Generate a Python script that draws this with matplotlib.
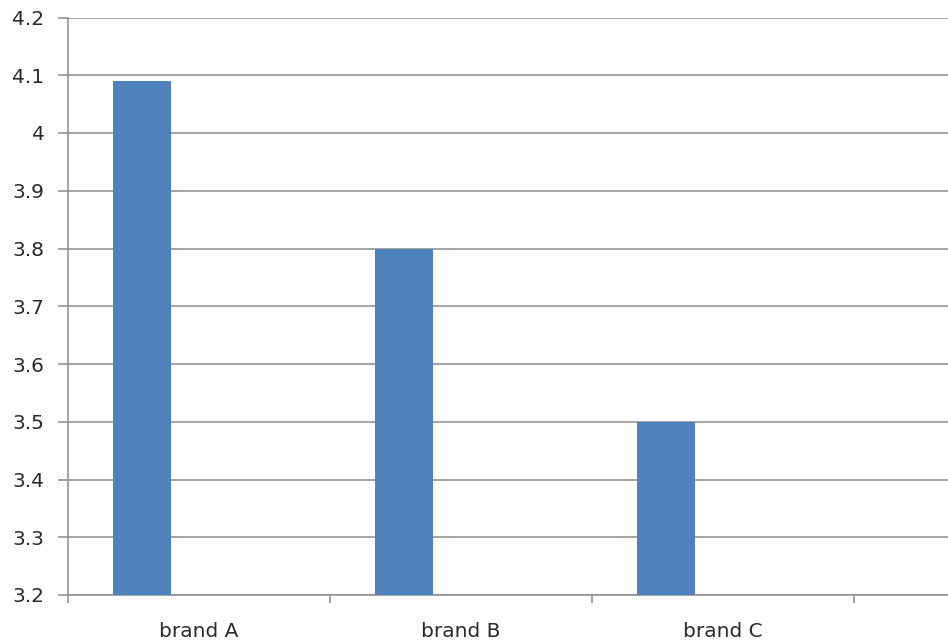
import matplotlib
matplotlib.use("Agg")
import matplotlib.pyplot as plt
import numpy as np

# Chart data
brands = ["brand A", "brand B", "brand C"]
scores = [4.09, 3.80, 3.50]
y_ticks = [3.2, 3.3, 3.4, 3.5, 3.6, 3.7, 3.8, 3.9, 4.0, 4.1, 4.2]
y_labels = ["3.2", "3.3", "3.4", "3.5", "3.6", "3.7", "3.8", "3.9", "4", "4.1", "4.2"]

BAR_COLOR = "#4F81BD"
GRID_COLOR = "#8c8c8c"
TEXT_COLOR = "#2b2b2b"

fig = plt.figure(figsize=(9.48, 6.44), dpi=100)
ax = fig.add_axes([68 / 948, 49 / 644, (948 - 68) / 948, (595 - 17.5) / 644])

x = np.arange(len(brands))
bar_w = 0.222
ax.bar(x - bar_w + 0.004, scores, width=bar_w, color=BAR_COLOR, zorder=3)

ax.set_ylim(3.2, 4.2)
ax.set_xlim(-0.5, (948 - 68) / 262 - 0.5)

ax.set_yticks(y_ticks)
ax.set_yticklabels(y_labels)
ax.yaxis.grid(True, color=GRID_COLOR, linewidth=1.1, zorder=0)
ax.set_axisbelow(True)

# category labels at centres, tick marks at category boundaries
ax.set_xticks(x)
ax.set_xticklabels(brands)
ax.set_xticks(np.arange(len(brands) + 1) - 0.5, minor=True)
ax.tick_params(axis="x", which="major", length=0, pad=19.5, labelsize=14.5, labelcolor=TEXT_COLOR)
ax.tick_params(axis="x", which="minor", length=6, width=1.1, color=GRID_COLOR, direction="out")
ax.tick_params(axis="y", length=7, width=1.1, color=GRID_COLOR, pad=10, labelsize=14.5, labelcolor=TEXT_COLOR)

for side in ("top", "right"):
    ax.spines[side].set_visible(False)
for side in ("left", "bottom"):
    ax.spines[side].set_color(GRID_COLOR)
    ax.spines[side].set_linewidth(1.1)

fig.savefig("out.png", dpi=100)
